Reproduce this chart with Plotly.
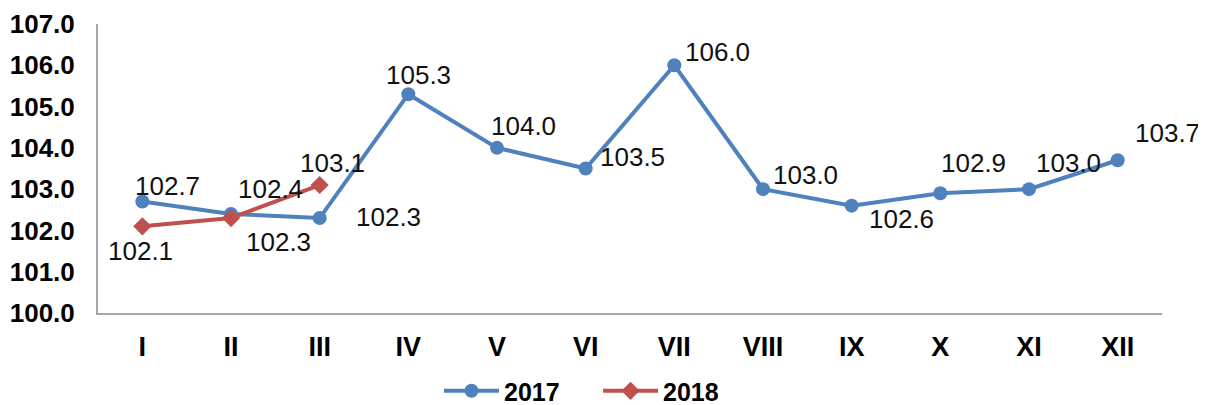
import plotly.graph_objects as go

categories = ["I", "II", "III", "IV", "V", "VI", "VII", "VIII", "IX", "X", "XI", "XII"]
values_2017 = [102.7, 102.4, 102.3, 105.3, 104.0, 103.5, 106.0, 103.0, 102.6, 102.9, 103.0, 103.7]
values_2018 = [102.1, 102.3, 103.1]
y_ticks = [100, 101, 102, 103, 104, 105, 106, 107]

# label offsets (pixels, style only)
off_2017 = [(25, 16), (39, 25), (69, 1), (10, 19), (26, 22), (47, 12), (43, 13),
            (42, 14), (50, -13), (33, 30), (39, 26), (50, 27)]
off_2018 = [(-2, -25), (47, -24), (13, 22)]

BLUE = "#4f81bd"
RED = "#c0504d"
FONT = "Liberation Sans, Arial, sans-serif"

fig = go.Figure()
fig.add_trace(go.Scatter(
    x=categories, y=values_2017, name="2017", mode="lines+markers",
    line=dict(color=BLUE, width=4),
    marker=dict(symbol="circle", size=14, color=BLUE),
))
fig.add_trace(go.Scatter(
    x=categories[:len(values_2018)], y=values_2018, name="2018", mode="lines+markers",
    line=dict(color=RED, width=4),
    marker=dict(symbol="diamond", size=14, color=RED),
))

annotations = []
for cat, v, (dx, dy) in zip(categories, values_2017, off_2017):
    annotations.append(dict(x=cat, y=v, xref="x", yref="y", text=f"{v:.1f}",
                            showarrow=False, xshift=dx, yshift=dy,
                            font=dict(family=FONT, size=26, color="#111111")))
for cat, v, (dx, dy) in zip(categories, values_2018, off_2018):
    annotations.append(dict(x=cat, y=v, xref="x", yref="y", text=f"{v:.1f}",
                            showarrow=False, xshift=dx, yshift=dy,
                            font=dict(family=FONT, size=26, color="#111111")))

fig.update_layout(
    width=1198, height=397,
    margin=dict(l=90, r=44, t=16, b=92, autoexpand=False),
    paper_bgcolor="white", plot_bgcolor="white",
    font=dict(family=FONT, color="#000000"),
    showlegend=True,
    legend=dict(orientation="h", x=0.3205, xanchor="left", y=-0.27, yanchor="middle",
                font=dict(family=FONT, size=25, weight="bold", color="#000000"),
                itemwidth=55, entrywidth=89, traceorder="normal"),
    annotations=annotations,
)
fig.update_xaxes(
    type="category", range=[-0.5, 11.5],
    showline=True, linecolor="#a6a6a6", linewidth=2,
    showgrid=False, zeroline=False, ticks="",
    tickfont=dict(family=FONT, size=27, weight="bold", color="#000000"),
    ticklabelstandoff=9,
)
fig.update_yaxes(
    range=[100, 107], tickvals=y_ticks, ticktext=[f"{t:.1f}" for t in y_ticks],
    showline=True, linecolor="#a6a6a6", linewidth=2,
    showgrid=False, zeroline=False, ticks="",
    tickfont=dict(family=FONT, size=26, weight="bold", color="#000000"),
    ticklabelstandoff=16,
)

fig.write_html("out.html")
